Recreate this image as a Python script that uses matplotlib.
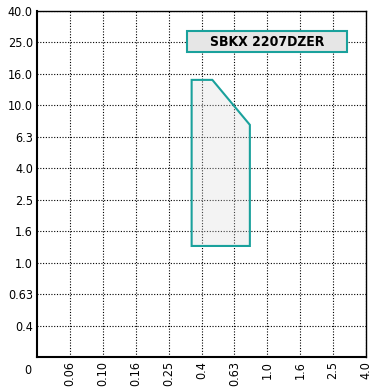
import matplotlib.pyplot as plt
from matplotlib.patches import Polygon, Rectangle

plt.rcParams['font.family'] = ['DejaVu Sans']
plt.rcParams['font.stretch'] = 'condensed'

x_labels = ['0.06', '0.10', '0.16', '0.25', '0.4', '0.63', '1.0', '1.6', '2.5', '4.0']
y_labels = ['0.4', '0.63', '1.0', '1.6', '2.5', '4.0', '6.3', '10.0', '16.0', '25.0', '40.0']

# zone outline, in grid-index units (x index, y index)
zone_x = [4.70, 4.70, 5.33, 6.47, 6.47]
zone_y = [3.53, 8.81, 8.81, 7.38, 3.53]
tool_name = 'SBKX 2207DZER'

teal = '#1aa19c'

fig = plt.figure(figsize=(3.77, 3.89), dpi=100)
ax = fig.add_axes([37 / 377, 1 - 357 / 389, 329 / 377, 346 / 389])

ax.set_xlim(0, len(x_labels))
ax.set_ylim(0, len(y_labels))
ax.set_xticks(range(1, len(x_labels) + 1))
ax.set_xticklabels(x_labels, rotation=90, fontsize=9)
ax.set_yticks(range(1, len(y_labels) + 1))
ax.set_yticklabels(y_labels, fontsize=9)
ax.tick_params(length=0, pad=3)
ax.grid(True, color='black', linestyle=(0, (1, 1.5)), linewidth=0.8, zorder=1)
ax.set_axisbelow(True)

for s in ['left', 'bottom']:
    ax.spines[s].set_linewidth(1.5)
for s in ['top', 'right']:
    ax.spines[s].set_linewidth(1.0)

ax.add_patch(Polygon(list(zip(zone_x, zone_y)), closed=True,
                     facecolor='#d8d8d8', alpha=0.3, edgecolor='none', zorder=2))
ax.add_patch(Polygon(list(zip(zone_x, zone_y)), closed=True,
                     facecolor='none', edgecolor=teal, linewidth=1.5, zorder=3))

ax.add_patch(Rectangle((4.55, 9.69), 4.88, 0.67, facecolor='#e6e6e6',
                       edgecolor=teal, linewidth=1.5, zorder=4))
ax.text(6.99, 10.02, tool_name, ha='center', va='center', fontsize=10,
        fontweight='bold', zorder=5)

ax.text(-0.27, -0.42, '0', ha='center', va='center', fontsize=9,
        transform=ax.transData, clip_on=False)

fig.savefig('out.png', dpi=100)
